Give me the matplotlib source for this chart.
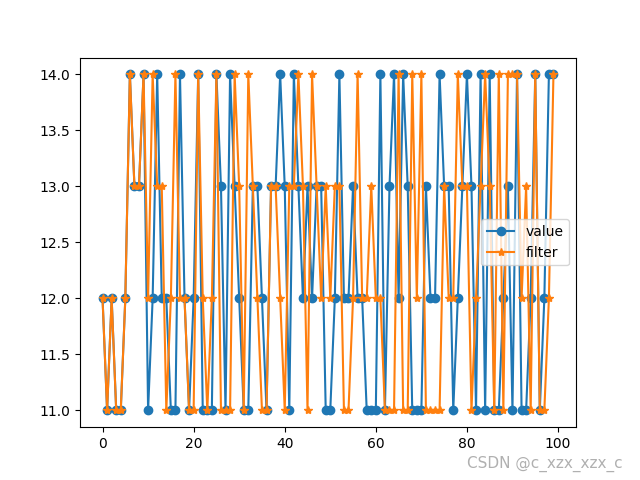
import numpy as np
import matplotlib
matplotlib.use('Agg')
import matplotlib.pyplot as plt

# raw readings (values 11..14) and the filtered series
value = [12, 11, 12, 11, 11, 12, 14, 13, 13, 14,
         11, 12, 14, 12, 12, 11, 11, 14, 12, 11,
         12, 14, 11, 11, 11, 14, 13, 11, 14, 13,
         12, 11, 11, 13, 13, 12, 11, 13, 13, 14,
         13, 11, 14, 13, 12, 13, 12, 13, 13, 11,
         11, 12, 14, 12, 12, 13, 12, 12, 11, 11,
         11, 14, 11, 13, 14, 12, 14, 13, 11, 11,
         11, 13, 12, 12, 14, 13, 13, 11, 12, 13,
         14, 13, 11, 14, 11, 14, 11, 11, 12, 13,
         11, 14, 11, 11, 12, 14, 11, 12, 14, 14]

filt = [12, 11, 12, 11, 11, 12, 14, 13, 13, 14,
        12, 14, 13, 13, 11, 12, 14, 12, 12, 11,
        11, 14, 12, 11, 12, 14, 11, 11, 11, 14,
        13, 11, 14, 13, 12, 11, 11, 13, 13, 12,
        11, 13, 13, 14, 13, 11, 14, 13, 12, 13,
        12, 13, 13, 11, 11, 12, 14, 12, 12, 13,
        12, 12, 11, 11, 11, 14, 11, 11, 14, 12,
        14, 11, 11, 11, 11, 13, 12, 12, 14, 13,
        13, 11, 12, 13, 14, 13, 11, 14, 11, 14,
        14, 14, 12, 13, 11, 14, 11, 11, 12, 14]

x = np.arange(len(value))

fig = plt.figure(figsize=(6.4, 4.8), dpi=100)
plt.plot(x, value, marker='o', label='value')
plt.plot(x, filt, marker='*', label='filter')
plt.legend(loc='center right')

# watermark
fig.text(0.73, 0.025, 'CSDN @c_xzx_xzx_c', color='#b0b0b0', fontsize=11)

plt.savefig('out.png', dpi=100)
